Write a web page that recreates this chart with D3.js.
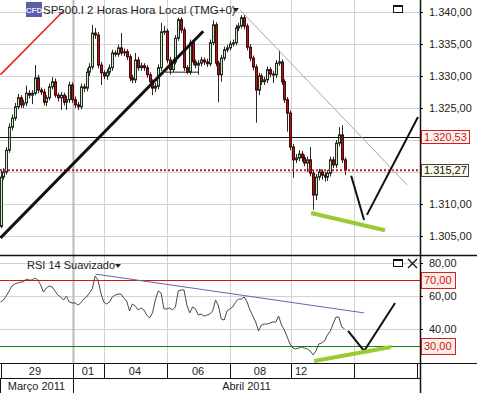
<!DOCTYPE html>
<html>
<head>
<meta charset="utf-8">
<script src="https://cdnjs.cloudflare.com/ajax/libs/d3/7.8.5/d3.min.js"></script>
<style>
  html, body { margin: 0; padding: 0; background: #fff; }
  svg { display: block; font-family: "Liberation Sans", Arial, sans-serif; }
</style>
</head>
<body>
<div id="chart"></div>
<script>
// SP500.I 2h candles + smoothed RSI 14

const firstOpen = 1306.5;
const closes = [1314.2, 1315.0, 1318.4, 1322.0, 1323.4, 1325.2, 1326.6, 1325.5, 1325.8, 1327.3,
  1327.0, 1327.3, 1329.7, 1327.8, 1327.5, 1325.9, 1326.6, 1328.3, 1329.1, 1327.0,
  1326.6, 1327.0, 1325.9, 1326.3, 1328.6, 1326.3, 1325.5, 1325.2, 1328.3, 1328.1,
  1330.6, 1331.4, 1336.7, 1336.4, 1331.7, 1330.5, 1330.0, 1330.6, 1331.3, 1333.6,
  1333.4, 1334.4, 1333.6, 1333.8, 1333.0, 1329.7, 1329.4, 1332.5, 1331.3, 1331.6,
  1331.3, 1330.2, 1329.1, 1328.1, 1328.4, 1331.3, 1336.9, 1337.0, 1332.5, 1331.0,
  1332.2, 1335.9, 1338.8, 1337.2, 1331.3, 1330.6, 1335.2, 1332.2, 1331.7, 1332.0,
  1332.5, 1332.2, 1331.9, 1335.2, 1338.0, 1332.0, 1330.2, 1332.8, 1334.1, 1334.4,
  1335.0, 1335.2, 1337.5, 1337.8, 1339.1, 1337.8, 1334.5, 1332.8, 1331.4, 1327.8,
  1330.0, 1329.1, 1329.4, 1331.0, 1330.3, 1330.2, 1332.0, 1332.2, 1329.1, 1326.3,
  1324.2, 1318.9, 1316.9, 1317.2, 1317.8, 1317.2, 1316.4, 1316.9, 1314.8, 1311.4,
  1314.2, 1315.0, 1314.5, 1314.2, 1314.8, 1316.9, 1316.1, 1319.5, 1320.8, 1316.9,
  1315.3];
const highs = [1315.3, 1315.6, 1318.9, 1322.6, 1324.0, 1325.8, 1327.2, 1327.0, 1326.3, 1328.5,
  1327.8, 1327.8, 1331.7, 1330.2, 1328.2, 1328.0, 1327.0, 1328.8, 1329.8, 1329.6,
  1327.4, 1327.5, 1327.4, 1326.9, 1329.1, 1329.0, 1326.8, 1326.0, 1328.8, 1328.8,
  1331.2, 1332.0, 1338.0, 1337.5, 1336.9, 1332.2, 1330.9, 1331.1, 1331.8, 1334.1,
  1334.0, 1334.9, 1336.7, 1334.3, 1334.2, 1333.4, 1330.2, 1333.6, 1333.0, 1332.1,
  1332.0, 1331.7, 1330.6, 1329.5, 1328.9, 1331.8, 1338.3, 1337.8, 1337.4, 1333.0,
  1332.7, 1336.4, 1339.1, 1339.2, 1337.6, 1331.7, 1335.7, 1335.6, 1332.6, 1332.5,
  1333.0, 1332.9, 1332.7, 1335.7, 1338.7, 1338.4, 1332.4, 1333.3, 1334.6, 1334.9,
  1335.5, 1335.7, 1338.0, 1338.3, 1339.5, 1339.5, 1338.2, 1335.0, 1333.2, 1331.8,
  1330.5, 1330.4, 1329.9, 1331.5, 1331.4, 1330.8, 1332.5, 1334.0, 1332.6, 1329.5,
  1326.7, 1324.6, 1319.4, 1317.8, 1318.4, 1318.3, 1317.7, 1317.4, 1318.9, 1315.2,
  1314.7, 1315.5, 1315.4, 1315.0, 1315.3, 1317.4, 1317.4, 1320.0, 1322.0, 1322.3,
  1317.3];
const lows = [1306.2, 1313.8, 1314.6, 1318.0, 1321.5, 1323.0, 1324.8, 1325.0, 1325.0, 1325.3,
  1326.5, 1325.6, 1327.0, 1327.3, 1327.0, 1325.4, 1325.3, 1326.2, 1327.9, 1326.6,
  1326.0, 1324.7, 1325.4, 1324.7, 1325.8, 1325.8, 1325.0, 1324.7, 1324.8, 1327.5,
  1327.6, 1330.0, 1331.0, 1335.8, 1331.2, 1328.6, 1329.5, 1329.4, 1330.1, 1330.8,
  1333.0, 1333.0, 1333.2, 1333.1, 1332.5, 1329.2, 1328.9, 1328.9, 1330.8, 1330.8,
  1330.8, 1329.7, 1328.6, 1327.0, 1327.5, 1327.9, 1330.8, 1336.4, 1332.0, 1330.2,
  1330.6, 1331.8, 1335.5, 1336.7, 1330.8, 1330.3, 1330.2, 1331.7, 1331.2, 1330.2,
  1331.5, 1331.7, 1331.4, 1331.5, 1334.8, 1331.5, 1325.9, 1329.1, 1332.4, 1333.7,
  1334.0, 1334.6, 1334.8, 1337.0, 1337.4, 1337.3, 1334.0, 1332.3, 1330.9, 1322.7,
  1327.0, 1328.6, 1328.6, 1328.9, 1329.8, 1328.9, 1329.7, 1331.6, 1328.6, 1325.8,
  1321.3, 1318.4, 1314.1, 1316.4, 1316.7, 1316.6, 1315.9, 1315.0, 1314.3, 1309.1,
  1310.6, 1313.7, 1313.8, 1313.5, 1313.6, 1314.3, 1315.6, 1315.6, 1319.0, 1316.4,
  1314.5];
const rsi = [56.6, 57.8, 60.2, 63.2, 66.3, 67.5, 68.1, 68.7, 68.7, 70.5,
  69.9, 69.9, 71.1, 69.9, 66.9, 62.6, 65.1, 66.3, 65.7, 63.3,
  60.8, 59.6, 57.8, 60.2, 56.6, 56.0, 56.0, 54.8, 56.0, 58.4,
  59.6, 62.0, 64.5, 72.3, 69.9, 62.0, 56.6, 55.4, 56.6, 59.6,
  60.8, 61.4, 61.4, 59.0, 57.2, 51.2, 55.4, 54.2, 51.8, 53.0,
  51.8, 48.7, 46.9, 50.0, 57.8, 63.3, 62.0, 52.4, 52.4, 53.0,
  51.8, 53.6, 63.3, 63.9, 63.9, 54.8, 50.0, 53.6, 52.4, 48.7,
  49.3, 48.1, 48.7, 49.3, 51.2, 57.8, 54.2, 46.3, 45.7, 51.2,
  52.4, 53.6, 56.6, 58.4, 58.4, 59.6, 56.6, 51.8, 48.1, 44.5,
  39.1, 42.7, 43.3, 43.3, 43.9, 44.5, 44.5, 48.1, 42.7, 39.7,
  35.4, 31.2, 28.8, 28.2, 28.8, 29.4, 28.8, 28.2, 27.0, 24.6,
  27.0, 31.2, 31.8, 33.0, 36.6, 39.0, 43.3, 47.5, 47.5, 41.5,
  40.3];

const priceTicks = [1305, 1310, 1315, 1320, 1325, 1330, 1335, 1340];
const rsiTicks = [40, 60, 80];
const rsiLevels = [70, 30];
const lastHigh = 1320.53;
const lastPrice = 1315.27;

// axis in bar units (2h bars)
const dayBreaks = [0.2, 25.3, 36.1, 58.1, 80.1, 101.3, 123.3, 145.3];
const dayLabels = ['29', '01', '04', '06', '08', '12'];
const dayLabelAt = [12.0, 30.5, 46.9, 68.9, 90.5, 104.8];
const monthLabels = ['Março 2011', 'Abril 2011'];
const monthSpans = [[-0.2, 25.3], [25.3, 146.3]];

// drawn studies: [bar, price]
const priceLines = [
  { pts: [[0, 1330.2], [22.0, 1340.2]], color: '#e02424', w: 1.6 },
  { pts: [[0, 1304.7], [70.7, 1337.0]], color: '#111', w: 3 },
  { pts: [[57.5, 1330.6], [69, 1330.6]], color: '#222', w: 1 },
  { pts: [[83.6, 1340.3], [141.8, 1313.0]], color: '#a8a8a8', w: 1 },
  { pts: [[122.3, 1314.4], [126.8, 1307.5]], color: '#111', w: 2 },
  { pts: [[127.8, 1308.3], [145.6, 1323.6]], color: '#111', w: 2 },
  { pts: [[108.3, 1308.6], [134.1, 1305.9]], color: '#99cc33', w: 4 }
];
const rsiLines = [
  { pts: [[33.1, 73.5], [126.8, 50.0]], color: '#6a62a8', w: 1 },
  { pts: [[121.2, 39.1], [126.8, 27.0], [137.6, 56.0]], color: '#111', w: 2 },
  { pts: [[109.4, 20.9], [136.2, 29.4]], color: '#99cc33', w: 4 }
];

const W = 477, H = 393;
const plotR = 420;
const mainTop = 0, mainBot = 255, rsiTop = 255, rsiBot = 363, dateBot = 378;

const loc = d3.formatLocale({ decimal: ',', thousands: '.', grouping: [3], currency: ['', ''] });
const fmt = loc.format(',.2f');

const svg = d3.select('#chart').append('svg')
  .attr('width', W).attr('height', H)
  .attr('viewBox', `0 0 ${W} ${H}`);

const x = d3.scaleLinear().domain([0, 146.3]).range([0.5, plotR]);
const y = d3.scaleLinear().domain([1305, 1340]).range([236, 12]);
const yr = d3.scaleLinear().domain([30, 80]).range([346, 263.3]);

const defs = svg.append('defs');
defs.append('clipPath').attr('id', 'clipMain')
  .append('rect').attr('x', 0).attr('y', mainTop).attr('width', plotR).attr('height', mainBot - mainTop);
defs.append('clipPath').attr('id', 'clipRsi')
  .append('rect').attr('x', 0).attr('y', rsiTop + 1).attr('width', plotR).attr('height', rsiBot - rsiTop - 1);

const px = v => Math.round(v) + 0.5;

// ---- grids
const grid = svg.append('g');
grid.selectAll('line.hp').data(priceTicks).join('line')
  .attr('x1', 0).attr('x2', plotR)
  .attr('y1', d => px(y(d))).attr('y2', d => px(y(d)))
  .style('stroke', '#d2d2d2');
grid.selectAll('line.hr').data(rsiTicks).join('line')
  .attr('x1', 0).attr('x2', plotR)
  .attr('y1', d => px(yr(d))).attr('y2', d => px(yr(d)))
  .style('stroke', '#d2d2d2');
const innerBreaks = dayBreaks.slice(1, -1);
grid.selectAll('line.v').data(innerBreaks).join('line')
  .attr('x1', d => px(x(d))).attr('x2', d => px(x(d)))
  .attr('y1', mainTop).attr('y2', rsiBot)
  .style('stroke', (d, i) => i === 0 ? '#b8b8b8' : '#d2d2d2')
  .style('stroke-width', (d, i) => i === 0 ? 2 : 1);

// ---- candles
const candles = closes.map((c, i) => ({ i, o: i ? closes[i - 1] : firstOpen, c, h: highs[i], l: lows[i] }));
const cg = svg.append('g').attr('clip-path', 'url(#clipMain)');
cg.selectAll('line.wick').data(candles).join('line')
  .attr('x1', d => px(x(d.i))).attr('x2', d => px(x(d.i)))
  .attr('y1', d => y(d.h)).attr('y2', d => y(d.l))
  .style('stroke', '#2a2a2a').style('stroke-width', 1);
cg.selectAll('rect.body').data(candles).join('rect')
  .attr('x', d => Math.round(x(d.i)) - 0.5)
  .attr('width', 2)
  .attr('y', d => y(Math.max(d.o, d.c)))
  .attr('height', d => Math.max(1, Math.abs(y(d.o) - y(d.c))))
  .style('fill', d => d.c >= d.o ? '#cfe8c8' : '#a8181c')
  .style('stroke', d => d.c >= d.o ? '#1f2f1f' : '#4a0808')
  .style('stroke-width', 1);

// ---- price levels and drawn lines
const lg = svg.append('g').attr('clip-path', 'url(#clipMain)');
lg.append('line').attr('x1', 0).attr('x2', plotR)
  .attr('y1', px(y(lastHigh))).attr('y2', px(y(lastHigh)))
  .style('stroke', '#111').style('stroke-width', 1);
lg.append('line').attr('x1', 0).attr('x2', plotR)
  .attr('y1', y(lastPrice)).attr('y2', y(lastPrice))
  .style('stroke', '#c41a1a').style('stroke-width', 2).style('stroke-dasharray', '2,2');
const lineP = d3.line().x(d => x(d[0])).y(d => y(d[1]));
lg.selectAll('path.tl').data(priceLines).join('path')
  .attr('d', d => lineP(d.pts))
  .style('fill', 'none').style('stroke', d => d.color).style('stroke-width', d => d.w);

// ---- RSI
const rg = svg.append('g').attr('clip-path', 'url(#clipRsi)');
rg.selectAll('line.lvl').data(rsiLevels).join('line')
  .attr('x1', 0).attr('x2', plotR)
  .attr('y1', d => px(yr(d))).attr('y2', d => px(yr(d)))
  .style('stroke', d => d === 70 ? '#c81818' : '#138013');
rg.append('path')
  .attr('d', d3.line().x((d, i) => x(i)).y(d => yr(d))(rsi))
  .style('fill', 'none').style('stroke', '#4a4a4a').style('stroke-width', 1);
const lineR = d3.line().x(d => x(d[0])).y(d => yr(d[1]));
rg.selectAll('path.tl').data(rsiLines).join('path')
  .attr('d', d => lineR(d.pts))
  .style('fill', 'none').style('stroke', d => d.color).style('stroke-width', d => d.w);

// ---- frame lines
const frame = svg.append('g').style('stroke', '#111').style('stroke-width', 1);
frame.append('line').attr('x1', 0).attr('x2', W).attr('y1', mainBot + 0.5).attr('y2', mainBot + 0.5).style('stroke-width', 1.5);
frame.append('line').attr('x1', 0).attr('x2', W).attr('y1', rsiBot + 0.5).attr('y2', rsiBot + 0.5);
frame.append('line').attr('x1', 0).attr('x2', plotR).attr('y1', dateBot + 0.5).attr('y2', dateBot + 0.5);
frame.append('line').attr('x1', plotR + 0.5).attr('x2', plotR + 0.5).attr('y1', 0).attr('y2', H).style('stroke-width', 1.5);
frame.selectAll('line.db').data(dayBreaks).join('line')
  .attr('x1', d => px(x(d))).attr('x2', d => px(x(d)))
  .attr('y1', rsiBot).attr('y2', dateBot);
frame.append('line')
  .attr('x1', px(x(monthSpans[1][0]))).attr('x2', px(x(monthSpans[1][0])))
  .attr('y1', dateBot).attr('y2', H);
frame.append('line').attr('x1', 0.5).attr('x2', 0.5).attr('y1', dateBot).attr('y2', H);

// ---- x labels
const txt = svg.append('g').style('font-size', '11px').style('fill', '#222');
txt.selectAll('text.day').data(dayLabels).join('text')
  .attr('x', (d, i) => x(dayLabelAt[i])).attr('y', 374.5)
  .attr('text-anchor', 'middle').text(d => d);
txt.selectAll('text.mon').data(monthLabels).join('text')
  .attr('x', (d, i) => (x(monthSpans[i][0]) + x(monthSpans[i][1])) / 2).attr('y', 390)
  .attr('text-anchor', 'middle').text(d => d);

// ---- right axis labels
const boxPrice = [lastHigh, lastPrice];
const shownPrices = priceTicks.filter(t => boxPrice.every(b => Math.abs(y(t) - y(b)) > 8));
txt.selectAll('text.pl').data(shownPrices).join('text')
  .attr('x', 429).attr('y', d => y(d) + 4).text(d => fmt(d));
txt.selectAll('line.pt').data(priceTicks).join('line')
  .attr('x1', plotR).attr('x2', plotR + 3)
  .attr('y1', d => px(y(d))).attr('y2', d => px(y(d))).style('stroke', '#111');
txt.selectAll('text.rl').data(rsiTicks).join('text')
  .attr('x', 429).attr('y', d => yr(d) + 4).text(d => fmt(d));
txt.selectAll('line.rt').data(rsiTicks.concat(rsiLevels)).join('line')
  .attr('x1', plotR).attr('x2', plotR + 3)
  .attr('y1', d => px(yr(d))).attr('y2', d => px(yr(d))).style('stroke', '#111');

function tag(yy, label, border, bg, color, w, h) {
  const g = svg.append('g');
  g.append('rect').attr('x', 421.5).attr('y', Math.round(yy - h / 2) + 0.5)
    .attr('width', w).attr('height', h)
    .style('fill', bg).style('stroke', border);
  g.append('text').attr('x', 424).attr('y', yy + 4)
    .style('font-size', '11px').style('fill', color).text(label);
}
tag(y(lastHigh), fmt(lastHigh), '#d02020', '#fff4f2', '#c81818', 48, 13);
tag(y(lastPrice), fmt(lastPrice), '#444', '#fbfbe8', '#111', 47, 12);
rsiLevels.forEach(v => tag(yr(v), fmt(v), '#d02020', '#fdeee8', '#c81818', 34, 16));

// ---- titles
const icon = svg.append('g');
icon.append('rect').attr('x', 26).attr('y', 2).attr('width', 16).attr('height', 15)
  .style('fill', '#5b5ba6');
icon.append('text').attr('x', 34).attr('y', 13).attr('text-anchor', 'middle')
  .style('font-size', '8px').style('font-weight', 'bold').style('fill', '#e8e8ff').text('CFD');
svg.append('text').attr('x', 43).attr('y', 14)
  .style('font-size', '11.5px').style('fill', '#222')
  .text('SP500.I 2 Horas Hora Local (TMG+0)');
svg.append('text').attr('x', 27).attr('y', 269)
  .style('font-size', '11px').style('fill', '#222')
  .text('RSI 14 Suavizado');

function caret(cx, cy) {
  svg.append('path').attr('d', `M${cx - 3},${cy - 2}L${cx + 3},${cy - 2}L${cx},${cy + 2}Z`).style('fill', '#222');
}
caret(236, 10);
caret(118, 266);

// window buttons
function winBox(bx, by) {
  svg.append('rect').attr('x', bx + 0.5).attr('y', by + 0.5).attr('width', 9).attr('height', 7)
    .style('fill', '#fff').style('stroke', '#111');
  svg.append('line').attr('x1', bx).attr('x2', bx + 10).attr('y1', by + 1.5).attr('y2', by + 1.5)
    .style('stroke', '#111').style('stroke-width', 1);
}
winBox(393, 5);
winBox(393, 259);
svg.append('path').attr('d', 'M408,259L417,268M417,259L408,268')
  .style('stroke', '#111').style('stroke-width', 1.3);
</script>
</body>
</html>
